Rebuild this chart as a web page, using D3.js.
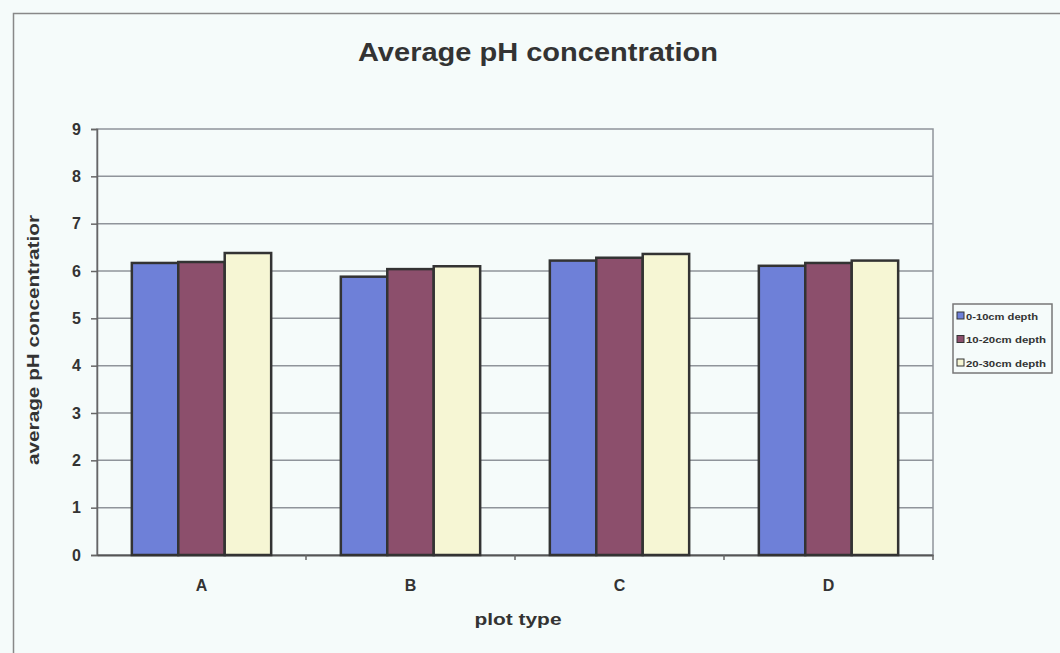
<!DOCTYPE html>
<html>
<head>
<meta charset="utf-8">
<script src="https://cdn.jsdelivr.net/npm/d3@7"></script>
<style>
  html, body { margin: 0; padding: 0; background: #f5fbfa; }
  svg { display: block; }
  text { font-family: "Liberation Sans", Arial, sans-serif; font-weight: bold; fill: #333; }
</style>
</head>
<body>
<svg id="chart" width="1060" height="653"></svg>
<script>
// Average soil pH per plot type, by sampling depth
const categories = ["A", "B", "C", "D"];
const seriesNames = ["0-10cm depth", "10-20cm depth", "20-30cm depth"];
const depth0to10 = [6.17, 5.88, 6.22, 6.11];
const depth10to20 = [6.19, 6.04, 6.28, 6.17];
const depth20to30 = [6.38, 6.10, 6.36, 6.22];
const yTicks = [0, 1, 2, 3, 4, 5, 6, 7, 8, 9];
const seriesColors = ["#6e80d8", "#8c4f6c", "#f6f6d4"];

const seriesValues = [depth0to10, depth10to20, depth20to30];

const svg = d3.select("#chart");
const W = 1060, H = 653;

// outer chart frame
svg.append("rect")
  .attr("x", 13.5).attr("y", 13.5)
  .attr("width", W + 10).attr("height", H + 10)
  .attr("fill", "none").attr("stroke", "#888").attr("stroke-width", 1.5);

const plot = { left: 97, right: 933, top: 129, bottom: 555 };

const x0 = d3.scaleBand()
  .domain(categories)
  .range([plot.left, plot.right])
  .paddingInner(0)
  .paddingOuter(0);

const x1 = d3.scaleBand()
  .domain(d3.range(seriesNames.length))
  .range([0, x0.bandwidth()])
  .paddingOuter(0.75)
  .paddingInner(0);

const y = d3.scaleLinear().domain([0, 9]).range([plot.bottom, plot.top]);

// plot area border
svg.append("rect")
  .attr("x", plot.left).attr("y", plot.top)
  .attr("width", plot.right - plot.left).attr("height", plot.bottom - plot.top)
  .attr("fill", "none").attr("stroke", "#8f949a").attr("stroke-width", 1.5);

// horizontal gridlines
svg.append("g").selectAll("line")
  .data(yTicks.filter(d => d > 0 && d < 9))
  .join("line")
  .attr("x1", plot.left).attr("x2", plot.right)
  .attr("y1", d => y(d)).attr("y2", d => y(d))
  .attr("stroke", "#8f949a").attr("stroke-width", 1.5);

// y axis
const yAxis = svg.append("g")
  .attr("transform", `translate(${plot.left},0)`)
  .call(d3.axisLeft(y).tickValues(yTicks).tickSize(6).tickPadding(10));
yAxis.select(".domain").attr("stroke", "#666").attr("stroke-width", 1.5);
yAxis.selectAll(".tick line").attr("stroke", "#666").attr("stroke-width", 1.5);
yAxis.selectAll(".tick text")
  .attr("font-size", 16).attr("font-family", "Liberation Sans, Arial, sans-serif")
  .attr("font-weight", "bold").attr("fill", "#333");

// x axis
const xAxis = svg.append("g")
  .attr("transform", `translate(0,${plot.bottom})`)
  .call(d3.axisBottom(x0).tickSize(0).tickPadding(25));
xAxis.select(".domain").attr("stroke", "#555").attr("stroke-width", 2);
xAxis.selectAll(".tick text")
  .attr("font-size", 16).attr("font-family", "Liberation Sans, Arial, sans-serif")
  .attr("font-weight", "bold").attr("fill", "#333");

// category separators below the axis
svg.append("g").selectAll("line")
  .data(categories.slice(1).concat(["end"]))
  .join("line")
  .attr("x1", (d, i) => i < categories.length - 1 ? x0(d) : plot.right)
  .attr("x2", (d, i) => i < categories.length - 1 ? x0(d) : plot.right)
  .attr("y1", plot.bottom).attr("y2", plot.bottom + 5)
  .attr("stroke", "#666").attr("stroke-width", 1.5);

// bars
const groups = svg.append("g").selectAll("g")
  .data(categories)
  .join("g")
  .attr("transform", d => `translate(${x0(d)},0)`);

groups.selectAll("rect")
  .data((c, ci) => seriesValues.map((vals, si) => ({ si, v: vals[ci] })))
  .join("rect")
  .attr("x", d => x1(d.si))
  .attr("width", x1.bandwidth())
  .attr("y", d => y(d.v))
  .attr("height", d => y(0) - y(d.v))
  .attr("fill", d => seriesColors[d.si])
  .attr("stroke", "#333")
  .attr("stroke-width", 2.5);

// title
svg.append("text")
  .attr("x", 538).attr("y", 61)
  .attr("text-anchor", "middle")
  .attr("font-size", 25)
  .attr("textLength", 360)
  .attr("lengthAdjust", "spacingAndGlyphs")
  .text("Average pH concentration");

// axis titles
svg.append("text")
  .attr("transform", "translate(39,340) rotate(-90)")
  .attr("text-anchor", "middle")
  .attr("font-size", 17)
  .attr("textLength", 250)
  .attr("lengthAdjust", "spacingAndGlyphs")
  .text("average pH concentratior");

svg.append("text")
  .attr("x", 518).attr("y", 625)
  .attr("text-anchor", "middle")
  .attr("font-size", 16)
  .attr("textLength", 87)
  .attr("lengthAdjust", "spacingAndGlyphs")
  .text("plot type");

// legend
const legend = svg.append("g").attr("transform", "translate(953,304)");
legend.append("rect")
  .attr("width", 99).attr("height", 69)
  .attr("fill", "none").attr("stroke", "#777").attr("stroke-width", 1.5);

const items = legend.selectAll("g")
  .data(seriesNames)
  .join("g")
  .attr("transform", (d, i) => `translate(4,${8 + i * 23.5})`);
items.append("rect")
  .attr("width", 7).attr("height", 7)
  .attr("fill", (d, i) => seriesColors[i])
  .attr("stroke", "#333").attr("stroke-width", 1);
items.append("text")
  .attr("x", 9).attr("y", 7.5)
  .attr("font-size", 9)
  .attr("textLength", (d, i) => i === 0 ? 72 : 80)
  .attr("lengthAdjust", "spacingAndGlyphs")
  .text(d => d);
</script>
</body>
</html>
